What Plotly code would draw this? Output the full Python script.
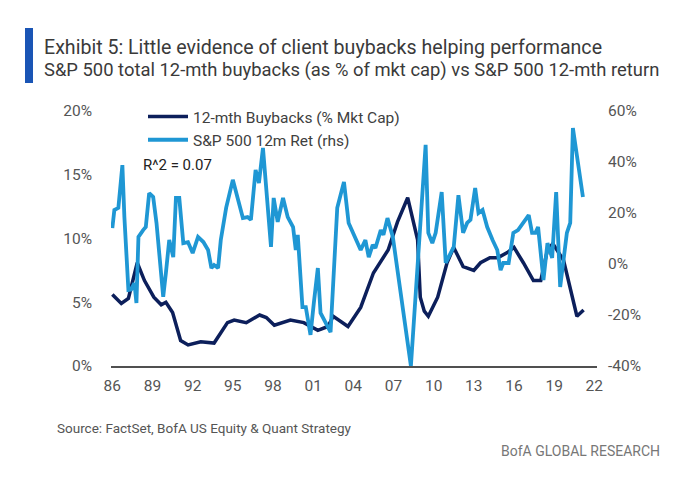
import plotly.graph_objects as go

# ---------------- data ----------------
buyback_years = [1986.0, 1986.67, 1987.2, 1987.86, 1988.4, 1989.1, 1989.65, 1990.0, 1990.5,
                 1991.1, 1991.66, 1992.6, 1993.6, 1994.6, 1995.1, 1996.0, 1997.0, 1997.5,
                 1998.1, 1999.3, 2000.3, 2001.35, 2002.1, 2002.5, 2003.6, 2004.55, 2005.5,
                 2006.6, 2007.3, 2008.06, 2008.8, 2009.0, 2009.3, 2009.6, 2010.3, 2011.0,
                 2011.5, 2012.2, 2013.0, 2013.5, 2014.2, 2014.8, 2015.5, 2016.0, 2016.7,
                 2017.45, 2018.0, 2018.5, 2018.9, 2019.7, 2020.7, 2021.2]
buyback_pct = [5.6, 4.9, 5.3, 8.1, 6.7, 5.4, 4.8, 5.0, 4.2,
               2.0, 1.65, 1.9, 1.8, 3.4, 3.6, 3.4, 4.0, 3.8,
               3.2, 3.6, 3.4, 2.8, 3.1, 3.9, 3.1, 4.6, 7.3,
               9.1, 11.3, 13.2, 9.9, 5.4, 4.3, 3.9, 5.4, 8.1,
               9.3, 7.8, 7.5, 8.1, 8.5, 8.5, 8.9, 9.3, 8.1,
               6.7, 6.7, 9.1, 9.6, 8.3, 3.9, 4.4]

ret_years = [1986.0, 1986.15, 1986.45, 1986.75, 1986.9, 1987.2, 1987.4, 1987.65, 1987.8,
             1987.95, 1988.3, 1988.5, 1988.75, 1989.05, 1989.3, 1989.5, 1989.8, 1990.0,
             1990.25, 1990.55, 1990.75, 1991.0, 1991.3, 1991.65, 1992.0, 1992.4, 1992.8,
             1993.15, 1993.4, 1993.6, 1993.9, 1994.1, 1994.5, 1995.0, 1995.4, 1995.75,
             1996.1, 1996.35, 1996.7, 1996.95, 1997.25, 1997.6, 1997.85, 1998.05, 1998.35,
             1998.75, 1999.1, 1999.5, 1999.7, 1999.85, 2000.2, 2000.45, 2000.8, 2001.05,
             2001.35, 2001.55, 2002.3, 2002.8, 2003.3, 2003.65, 2004.55, 2004.9, 2005.15,
             2005.45, 2005.65, 2006.05, 2006.25, 2006.55, 2006.95, 2008.3, 2009.4, 2009.6,
             2009.9, 2010.15, 2010.6, 2010.9, 2011.25, 2011.5, 2011.85, 2012.2, 2012.5,
             2012.75, 2013.1, 2013.35, 2013.65, 2014.0, 2014.4, 2014.75, 2015.0, 2015.2,
             2015.6, 2015.95, 2016.3, 2016.7, 2017.1, 2017.35, 2017.6, 2017.8, 2018.2,
             2018.5, 2018.85, 2019.15, 2019.45, 2019.95, 2020.2, 2020.4, 2020.8, 2021.15]
ret_pct = [14.1, 21.2, 22.0, 38.8, 18.4, -10.2, -10.0, -7.5, -15.3,
           10.6, 13.3, 14.5, 27.8, 26.3, 16.0, 2.7, -12.9, -3.5,
           9.4, 2.7, 25.9, 25.9, 8.2, 8.6, 4.3, 10.6, 8.6,
           5.5, -1.6, -0.4, -1.6, 9.4, 22.0, 33.0, 25.0, 18.0,
           18.4, 17.3, 36.9, 31.8, 45.5, 25.0, 6.7, 25.9, 16.5,
           25.9, 18.4, 14.5, 5.5, 11.4, -16.9, -16.9, -27.8, -15.3,
           -1.6, -19.2, -26.7, 22.0, 32.2, 16.1, 5.5, 9.4, 2.7,
           7.5, 6.3, 13.3, 11.4, 18.0, 10.6, -40.0, 46.7, 12.2,
           8.2, 12.2, 28.2, 0.4, 4.3, 6.7, 27.0, 12.2, 16.1,
           17.3, 29.8, 20.0, 21.2, 14.5, 9.4, 5.5, -2.4, 0.4,
           0.4, 12.2, 13.3, 16.1, 19.2, 12.2, 12.2, 14.5, -6.3,
           8.2, 2.4, 28.2, -9.0, 12.2, 16.1, 53.3, 38.0, 26.3]

x_tick_vals = [1986, 1989, 1992, 1995, 1998, 2001, 2004, 2007, 2010, 2013, 2016, 2019, 2022]
x_tick_text = ["86", "89", "92", "95", "98", "01", "04", "07", "10", "13", "16", "19", "22"]
left_ticks = [0, 5, 10, 15, 20]
left_tick_text = ["0%", "5%", "10%", "15%", "20%"]
right_ticks = [-40, -20, 0, 20, 40, 60]
right_tick_text = ["-40%", "-20%", "0%", "20%", "40%", "60%"]

title_line1 = "Exhibit 5: Little evidence of client buybacks helping performance"
title_line2 = "S&P 500 total 12-mth buybacks (as % of mkt cap) vs S&P 500 12-mth return"
source_text = "Source: FactSet, BofA US Equity & Quant Strategy"
brand_text = "BofA GLOBAL RESEARCH"
r2_text = "R^2 = 0.07"

# ---------------- styling ----------------
DARK = "#0c1f5b"
LIGHT = "#1f97d4"
FONT = "Roboto"
W, H = 700, 487
L, R, T, B = 111, 103, 111, 121
PW, PH = W - L - R, H - T - B


def px(x):
    return (x - L) / PW


def py(y):
    return (H - B - y) / PH


fig = go.Figure()
fig.add_trace(go.Scatter(x=buyback_years, y=buyback_pct, mode="lines",
                         name="12-mth Buybacks (% Mkt Cap)",
                         line=dict(color=DARK, width=3.5), yaxis="y"))
fig.add_trace(go.Scatter(x=ret_years, y=ret_pct, mode="lines",
                         name="S&P 500 12m Ret (rhs)",
                         line=dict(color=LIGHT, width=3.8), yaxis="y2"))

fig.update_layout(
    width=W, height=H,
    margin=dict(l=L, r=R, t=T, b=B, autoexpand=False),
    paper_bgcolor="white", plot_bgcolor="white",
    font=dict(family=FONT, color="#555555", size=15),
    showlegend=True,
    legend=dict(x=px(143), y=py(100), xanchor="left", yanchor="top",
                bgcolor="rgba(0,0,0,0)", font=dict(size=15.5, color="#404040"),
                tracegroupgap=0, itemwidth=40),
    xaxis=dict(range=[1985.9, 2022.2], tickvals=x_tick_vals, ticktext=x_tick_text,
               showgrid=False, zeroline=False, showline=True, linecolor="#505050",
               linewidth=2, ticks="", tickfont=dict(size=15.5, color="#555555"),
               ticklabelstandoff=4),
    yaxis=dict(range=[0, 20], tickvals=left_ticks, ticktext=left_tick_text,
               showgrid=False, zeroline=False, showline=False, ticks="",
               tickfont=dict(size=15.5, color="#555555"), ticklabelstandoff=18),
    yaxis2=dict(range=[-40, 60], tickvals=right_ticks, ticktext=right_tick_text,
                overlaying="y", side="right",
                showgrid=False, zeroline=False, showline=False, ticks="",
                tickfont=dict(size=15.5, color="#555555"), ticklabelstandoff=10),
)

fig.add_shape(type="rect", xref="paper", yref="paper",
              x0=px(25), x1=px(33), y0=py(83), y1=py(28),
              fillcolor="#1a55b5", line=dict(width=0), layer="above")

annos = [
    dict(text=title_line1, x=px(42), y=py(47), size=19.6, color="#3a3a3a"),
    dict(text=title_line2, x=px(42), y=py(70), size=18.4, color="#3a3a3a"),
    dict(text=r2_text, x=px(141), y=py(165), size=15, color="#222222"),
    dict(text=source_text, x=px(55), y=py(428), size=13.5, color="#555555"),
]
for a in annos:
    fig.add_annotation(text=a["text"], x=a["x"], y=a["y"], xref="paper", yref="paper",
                       xanchor="left", yanchor="middle", showarrow=False,
                       font=dict(family=FONT, size=a["size"], color=a["color"]))
fig.add_annotation(text=brand_text, x=px(662), y=py(451), xref="paper", yref="paper",
                   xanchor="right", yanchor="middle", showarrow=False,
                   font=dict(family=FONT, size=14, color="#777777"))

fig.write_html("out.html", config={"displayModeBar": False},
               post_script="document.body.style.margin='0';")
